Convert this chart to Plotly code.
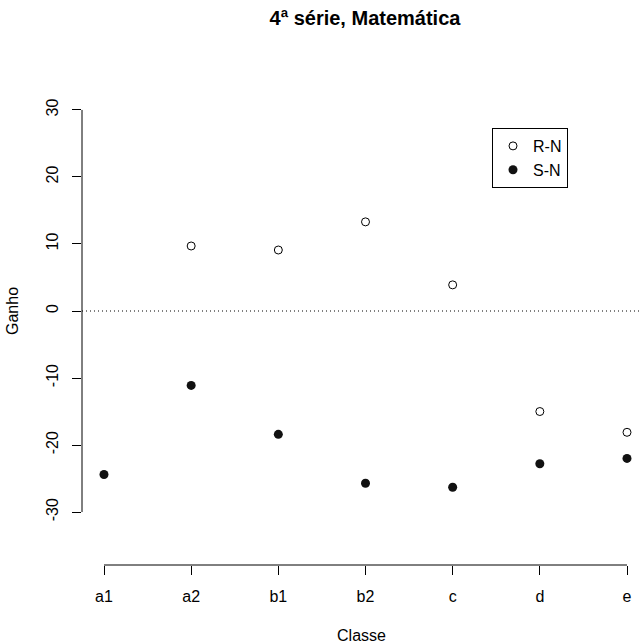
import plotly.graph_objects as go

classes = ["a1", "a2", "b1", "b2", "c", "d", "e"]
x_pos = [1, 2, 3, 4, 5, 6, 7]
rn_values = [None, 9.7, 9.1, 13.3, 3.9, -15.0, -18.1]
sn_values = [-24.4, -11.1, -18.4, -25.7, -26.3, -22.8, -22.0]
y_ticks = [-30, -20, -10, 0, 10, 20, 30]

FONT = "Liberation Sans, Arial, sans-serif"

fig = go.Figure()
fig.add_trace(go.Scatter(
    x=x_pos, y=rn_values, mode="markers", name="R-N",
    marker=dict(symbol="circle-open", size=8, color="black", line=dict(width=1, color="black")),
))
fig.add_trace(go.Scatter(
    x=x_pos, y=sn_values, mode="markers", name="S-N",
    marker=dict(symbol="circle", size=9, color="#111111"),
))

# zero reference line (dotted)
fig.add_shape(type="line", xref="paper", yref="y", x0=0, x1=1, y0=0, y1=0,
              line=dict(color="black", width=1, dash="1px,3px"))
# R-style axis lines spanning first to last tick
fig.add_shape(type="line", xref="x", yref="paper", x0=x_pos[0], x1=x_pos[-1], y0=0, y1=0,
              line=dict(color="black", width=1))
fig.add_shape(type="line", xref="paper", yref="y", x0=0, x1=0, y0=y_ticks[0], y1=y_ticks[-1],
              line=dict(color="black", width=1))

fig.update_layout(
    width=641, height=644,
    margin=dict(l=82, r=0, t=57, b=79, autoexpand=False),
    plot_bgcolor="white", paper_bgcolor="white",
    font=dict(family=FONT, size=16, color="black"),
    title=dict(text="<b>4ª série, Matemática</b>", x=365 / 641, xanchor="center",
               y=1 - 18 / 644, yanchor="middle", font=dict(size=20, family=FONT)),
    showlegend=True,
    legend=dict(x=(492 - 82) / 559, y=(565 - 128) / 508, xanchor="left", yanchor="top",
                bordercolor="black", borderwidth=1, bgcolor="white",
                font=dict(size=16, family=FONT), itemwidth=30, tracegroupgap=0),
    xaxis=dict(range=[1 - 22 / 87.17, 7 + 14 / 87.17], tickmode="array", tickvals=x_pos, ticktext=classes,
               showgrid=False, zeroline=False, showline=False, ticks="outside", ticklen=9,
               tickcolor="black", tickwidth=1, ticklabelstandoff=8, automargin=False,
               title=dict(text="Classe", standoff=25, font=dict(size=16))),
    yaxis=dict(range=[-37.9, 37.9], tickmode="array", tickvals=y_ticks, ticktext=[str(v) for v in y_ticks],
               showgrid=False, zeroline=False, showline=False, ticks="outside", ticklen=9,
               tickcolor="black", tickwidth=1, tickangle=-90, ticklabelstandoff=8, automargin=False,
               title=dict(text="Ganho", standoff=20, font=dict(size=16))),
)

fig.write_html("out.html", config={"displayModeBar": False},
               post_script="document.body.style.margin='0';document.body.style.overflow='hidden';")
